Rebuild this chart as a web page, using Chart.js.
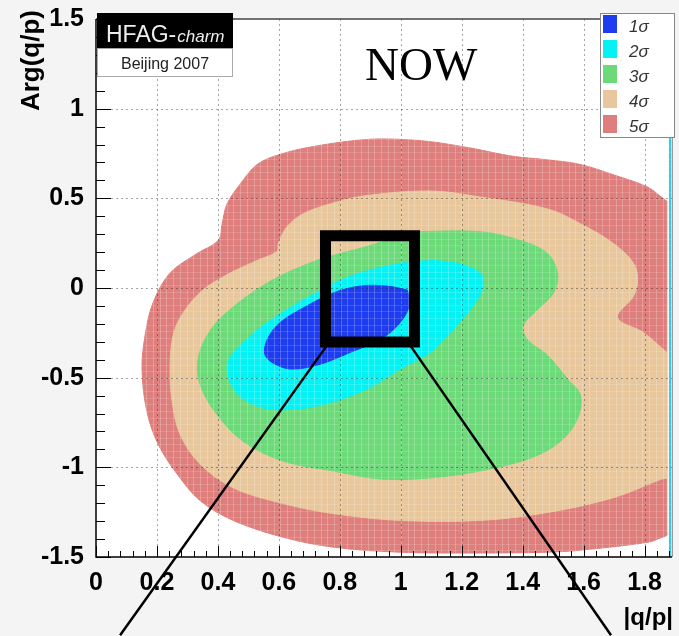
<!DOCTYPE html>
<html>
<head>
<meta charset="utf-8">
<script src="https://cdn.jsdelivr.net/npm/chart.js@4.4.1/dist/chart.umd.min.js"></script>
<style>
  html, body { margin: 0; padding: 0; background: #f4f4f4; }
  canvas { display: block; }
</style>
</head>
<body>
<canvas id="qpChart" width="679" height="636"></canvas>
<script>
// axis ticks
var xTicks = [0, 0.2, 0.4, 0.6, 0.8, 1, 1.2, 1.4, 1.6, 1.8];
var xTickLabels = ["0", "0.2", "0.4", "0.6", "0.8", "1", "1.2", "1.4", "1.6", "1.8"];
var yTicks = [-1.5, -1, -0.5, 0, 0.5, 1, 1.5];
var yTickLabels = ["-1.5", "-1", "-0.5", "0", "0.5", "1", "1.5"];

var sigmaLabels = ["1\u03c3", "2\u03c3", "3\u03c3", "4\u03c3", "5\u03c3"];
var sigmaColors = ["#1e3cf0", "#05f2f4", "#6cda78", "#e8c79d", "#df7f7d"];

// contour outlines, [|q/p|, Arg(q/p)]
var sigma1 = [[1.021, -0.011], [0.956, 0.011], [0.867, 0.011], [0.778, -0.028], [0.693, -0.099],
  [0.604, -0.193], [0.562, -0.287], [0.555, -0.375], [0.594, -0.430], [0.647, -0.452],
  [0.736, -0.425], [0.834, -0.359], [0.933, -0.287], [0.998, -0.193], [1.031, -0.083], [1.021, -0.011]];

var sigma2 = [[1.107, 0.154], [1.186, 0.138], [1.261, 0.083], [1.271, 0.011], [1.238, -0.099],
  [1.172, -0.232], [1.097, -0.359], [0.998, -0.452], [0.890, -0.563], [0.778, -0.634],
  [0.670, -0.673], [0.562, -0.673], [0.483, -0.618], [0.440, -0.524], [0.433, -0.414],
  [0.473, -0.320], [0.562, -0.193], [0.703, -0.044], [0.834, 0.066], [0.998, 0.138], [1.107, 0.154]];

var sigma3 = [[1.041, 0.314], [1.261, 0.314], [1.392, 0.265], [1.481, 0.193], [1.514, 0.083],
  [1.501, -0.028], [1.448, -0.121], [1.402, -0.210], [1.415, -0.287], [1.481, -0.375],
  [1.547, -0.507], [1.589, -0.596], [1.580, -0.728], [1.524, -0.855], [1.425, -0.949],
  [1.261, -1.020], [1.097, -1.059], [0.933, -1.065], [0.778, -1.020], [0.614, -0.965],
  [0.483, -0.855], [0.397, -0.706], [0.342, -0.541], [0.335, -0.397], [0.365, -0.265],
  [0.417, -0.154], [0.562, 0.028], [0.726, 0.154], [0.890, 0.232], [1.041, 0.314]];

var sigma4 = [[1.873, -0.359], [1.862, -0.343], [1.796, -0.248], [1.711, -0.165], [1.764, -0.044],
  [1.777, 0.044], [1.764, 0.138], [1.698, 0.248], [1.589, 0.359], [1.481, 0.441],
  [1.261, 0.507], [1.097, 0.541], [0.877, 0.513], [0.768, 0.469], [0.680, 0.414],
  [0.627, 0.342], [0.598, 0.248], [0.594, 0.204], [0.529, 0.154], [0.440, 0.083],
  [0.351, -0.011], [0.286, -0.138], [0.253, -0.265], [0.243, -0.452], [0.250, -0.634],
  [0.276, -0.816], [0.342, -0.982], [0.450, -1.114], [0.614, -1.202], [0.778, -1.258],
  [0.998, -1.296], [1.261, -1.296], [1.481, -1.252], [1.698, -1.169], [1.855, -1.066],
  [1.873, -1.059], [1.873, -1.040], [1.873, -0.375], [1.873, -0.359]];

var sigma5 = [[1.873, 0.485], [1.855, 0.507], [1.810, 0.563], [1.700, 0.630], [1.589, 0.689],
  [1.480, 0.715], [1.369, 0.734], [1.230, 0.780], [1.097, 0.816], [0.980, 0.830],
  [0.877, 0.827], [0.713, 0.789], [0.604, 0.745], [0.529, 0.689], [0.473, 0.579],
  [0.430, 0.469], [0.414, 0.359], [0.401, 0.265], [0.332, 0.193], [0.243, 0.083],
  [0.187, -0.083], [0.161, -0.265], [0.151, -0.452], [0.167, -0.689], [0.204, -0.871],
  [0.266, -1.037], [0.342, -1.186], [0.450, -1.296], [0.614, -1.390], [0.778, -1.445],
  [0.998, -1.473], [1.250, -1.478], [1.481, -1.473], [1.589, -1.462], [1.810, -1.418],
  [1.855, -1.392], [1.873, -1.379], [1.873, -1.360], [1.873, 0.465], [1.873, 0.485]];

// zoom box and its two guide lines
var zoomBox = [[0.753, 0.292], [1.045, 0.292], [1.045, -0.301], [0.753, -0.301], [0.753, 0.292]];
var leftGuide = [[0.758, -0.320], [0.079, -1.936]];
var rightGuide = [[1.031, -0.320], [1.690, -1.936]];
var edgeLine = [[1.884, -1.5], [1.884, 1.5]];

function pts(arr) {
  return arr.map(function(p) { return {x: p[0], y: p[1]}; });
}

var contours = [sigma1, sigma2, sigma3, sigma4, sigma5];
var datasets = [
  {data: pts(zoomBox), borderColor: "#000", borderWidth: 11, borderJoinStyle: "miter", borderCapStyle: "square", fill: false, tension: 0},
  {data: pts(leftGuide), borderColor: "#000", borderWidth: 2.5, fill: false, tension: 0, clip: false},
  {data: pts(rightGuide), borderColor: "#000", borderWidth: 2.5, fill: false, tension: 0, clip: false}
];
contours.forEach(function(c, i) {
  datasets.push({
    label: sigmaLabels[i],
    sigma: true,
    data: pts(c),
    backgroundColor: sigmaColors[i],
    borderColor: sigmaColors[i],
    borderWidth: 1,
    fill: "shape",
    tension: 0.35
  });
});
datasets.push({data: pts(edgeLine), borderColor: "#3ec6dc", borderWidth: 2.5, fill: false, tension: 0});

var BLUE_INDEX = 3;

var decor = {
  id: "decor",
  beforeDraw: function(chart) {
    var ctx = chart.ctx, a = chart.chartArea;
    ctx.save();
    ctx.fillStyle = "#ffffff";
    ctx.fillRect(a.left, a.top, a.right - a.left, a.bottom - a.top);
    ctx.restore();
  },
  afterDatasetDraw: function(chart, args) {
    if (args.index !== BLUE_INDEX) return;
    var ctx = chart.ctx, a = chart.chartArea, x = chart.scales.x, y = chart.scales.y;
    var v, p;
    ctx.save();
    ctx.beginPath();
    ctx.rect(a.left, a.top, a.right - a.left, a.bottom - a.top);
    ctx.clip();
    // histogram bin texture
    ctx.lineWidth = 1;
    ctx.strokeStyle = "rgba(255,255,255,0.22)";
    ctx.beginPath();
    for (v = 0.011; v < 1.875; v += 0.022) {
      p = Math.round(x.getPixelForValue(v)) + 0.5;
      ctx.moveTo(p, a.top); ctx.lineTo(p, a.bottom);
    }
    ctx.stroke();
    ctx.strokeStyle = "rgba(255,255,255,0.14)";
    ctx.beginPath();
    for (v = -1.5; v < 1.5; v += 0.037) {
      p = Math.round(y.getPixelForValue(v)) + 0.5;
      ctx.moveTo(a.left, p); ctx.lineTo(a.right, p);
    }
    ctx.stroke();
    // dotted grid
    ctx.setLineDash([2, 3]);
    ctx.strokeStyle = "rgba(40,40,40,0.42)";
    ctx.beginPath();
    xTicks.forEach(function(t) {
      if (t === 0) return;
      p = Math.round(x.getPixelForValue(t)) + 0.5;
      ctx.moveTo(p, a.top); ctx.lineTo(p, a.bottom);
    });
    yTicks.forEach(function(t) {
      if (t === -1.5 || t === 1.5) return;
      p = Math.round(y.getPixelForValue(t)) + 0.5;
      ctx.moveTo(a.left, p); ctx.lineTo(a.right, p);
    });
    ctx.stroke();
    ctx.restore();
  },
  afterDraw: function(chart) {
    var ctx = chart.ctx, a = chart.chartArea, x = chart.scales.x, y = chart.scales.y;
    var i, p, len;
    ctx.save();
    // frame
    ctx.lineWidth = 1.5;
    ctx.strokeStyle = "#444";
    ctx.beginPath(); ctx.moveTo(a.left, a.top); ctx.lineTo(a.right, a.top); ctx.stroke();
    ctx.strokeStyle = "#999";
    ctx.lineWidth = 1;
    ctx.beginPath(); ctx.moveTo(a.right + 0.5, a.top); ctx.lineTo(a.right + 0.5, a.bottom); ctx.stroke();
    ctx.strokeStyle = "#000";
    ctx.lineWidth = 1.5;
    ctx.beginPath(); ctx.moveTo(a.left, a.top); ctx.lineTo(a.left, a.bottom); ctx.lineTo(a.right, a.bottom); ctx.stroke();
    // inward tick marks
    ctx.lineWidth = 1;
    ctx.beginPath();
    for (i = 0; i * 0.04 <= 1.885; i++) {
      p = Math.round(x.getPixelForValue(i * 0.04)) + 0.5;
      len = i % 5 === 0 ? 11 : 6;
      ctx.moveTo(p, a.bottom); ctx.lineTo(p, a.bottom - len);
    }
    for (i = 0; i <= 30; i++) {
      p = Math.round(y.getPixelForValue(-1.5 + i * 0.1)) + 0.5;
      len = i % 5 === 0 ? 15 : 9;
      ctx.moveTo(a.left, p); ctx.lineTo(a.left + len, p);
    }
    ctx.stroke();

    // legend
    var items = chart.data.datasets.filter(function(d) { return d.sigma; });
    ctx.fillStyle = "#fff";
    ctx.fillRect(600, 13, 75, 125);
    ctx.strokeStyle = "#888";
    ctx.strokeRect(600.5, 13.5, 74, 124);
    ctx.font = "italic 17px 'Liberation Sans'";
    ctx.textAlign = "left";
    ctx.textBaseline = "alphabetic";
    items.forEach(function(d, k) {
      var top = 15 + k * 25;
      ctx.fillStyle = d.backgroundColor;
      ctx.fillRect(603, top, 14, 18);
      ctx.fillStyle = "#333";
      ctx.fillText(d.label, 629, top + 17);
    });

    // HFAG label
    ctx.fillStyle = "#000";
    ctx.fillRect(97, 13, 136, 35);
    ctx.fillStyle = "#fff";
    ctx.fillRect(97, 48, 136, 29);
    ctx.strokeStyle = "#aaa";
    ctx.strokeRect(97.5, 48.5, 135, 28);
    ctx.fillStyle = "#eee";
    ctx.font = "23px 'Liberation Sans'";
    ctx.fillText("HFAG-", 106, 42);
    var w = ctx.measureText("HFAG-").width;
    ctx.font = "italic 17px 'Liberation Sans'";
    ctx.fillText("charm", 106 + w + 1, 42);
    ctx.fillStyle = "#222";
    ctx.font = "16px 'Liberation Sans'";
    ctx.textAlign = "center";
    ctx.fillText("Beijing 2007", 165, 69);

    ctx.fillStyle = "#000";
    ctx.textAlign = "left";
    ctx.font = "47px 'Liberation Serif'";
    ctx.fillText("NOW", 365, 80);

    // axis titles
    ctx.font = "bold 24px 'Liberation Sans'";
    ctx.textAlign = "right";
    ctx.fillText("|q/p|", 673, 625);
    ctx.translate(39, 10);
    ctx.rotate(-Math.PI / 2);
    ctx.font = "bold 26px 'Liberation Sans'";
    ctx.fillText("Arg(q/p)", 0, 0);
    ctx.restore();
  }
};

var tickFont = {family: "Liberation Sans", size: 25, weight: "bold"};
var ctx = document.getElementById("qpChart").getContext("2d");
var chart = new Chart(ctx, {
  type: "line",
  data: {datasets: datasets},
  options: {
    responsive: false,
    animation: false,
    devicePixelRatio: 1,
    events: [],
    layout: {padding: {top: 13, right: 7, left: 0, bottom: 0}},
    elements: {point: {radius: 0, hoverRadius: 0}},
    plugins: {legend: {display: false}, tooltip: {enabled: false}},
    scales: {
      x: {
        type: "linear", min: 0, max: 1.89,
        grid: {display: false}, border: {display: false},
        afterFit: function(s) { s.height = 79; },
        afterBuildTicks: function(s) { s.ticks = xTicks.map(function(v) { return {value: v}; }); },
        ticks: {padding: 3, color: "#000", font: tickFont, autoSkip: false, maxRotation: 0,
          callback: function(v, i) { return xTickLabels[i]; }}
      },
      y: {
        type: "linear", min: -1.5, max: 1.5,
        grid: {display: false}, border: {display: false},
        afterFit: function(s) { s.width = 96; },
        afterBuildTicks: function(s) { s.ticks = yTicks.map(function(v) { return {value: v}; }); },
        ticks: {padding: 4, color: "#000", font: tickFont, autoSkip: false,
          callback: function(v, i) { return yTickLabels[i]; }}
      }
    }
  },
  plugins: [decor]
});
</script>
</body>
</html>
